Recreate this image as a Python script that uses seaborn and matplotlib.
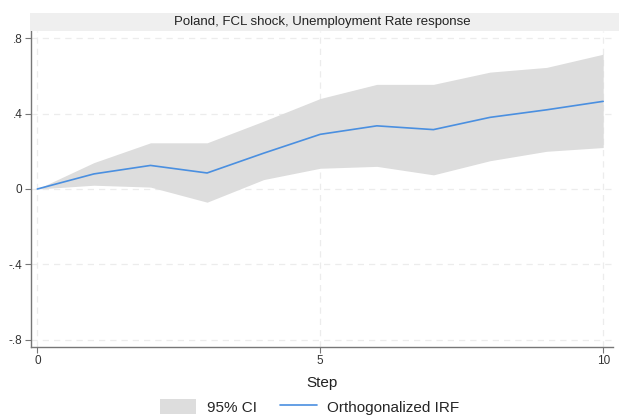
import numpy as np
import pandas as pd
import matplotlib
matplotlib.use("Agg")
import matplotlib.pyplot as plt
import seaborn as sns
from matplotlib.patches import Rectangle

# IRF values
steps = [0, 1, 2, 3, 4, 5, 6, 7, 8, 9, 10]
irf = [0.0, 0.08, 0.125, 0.085, 0.19, 0.29, 0.335, 0.315, 0.38, 0.42, 0.465]
ci_upper = [0.0, 0.14, 0.245, 0.245, 0.36, 0.48, 0.555, 0.555, 0.62, 0.645, 0.715]
ci_lower = [0.0, 0.02, 0.01, -0.07, 0.05, 0.11, 0.12, 0.075, 0.15, 0.2, 0.22]
y_ticks = [-0.8, -0.4, 0, 0.4, 0.8]
y_labels = ["-.8", "-.4", "0", ".4", ".8"]
x_ticks = [0, 5, 10]

data = pd.DataFrame({"step": steps, "irf": irf, "lo": ci_lower, "hi": ci_upper})

sns.set_theme(style="white")
plt.rcParams["font.family"] = ["Liberation Sans", "DejaVu Sans"]

fig = plt.figure(figsize=(6.19, 4.18), dpi=100)
ax = fig.add_axes([0.0496, 0.1699, 0.9404, 0.7559])

grid_col = "#ececec"
for y in y_ticks:
    ax.axhline(y, color=grid_col, lw=0.9, ls=(0, (5, 4)), zorder=0)
for x in x_ticks:
    ax.axvline(x, color=grid_col, lw=0.9, ls=(0, (5, 4)), zorder=0)

ax.fill_between(data["step"], data["lo"], data["hi"], color="#dddddd",
                lw=0, label="95% CI", zorder=1)
sns.lineplot(data=data, x="step", y="irf", ax=ax, color="#4a8fe0", lw=1.2,
             label="Orthogonalized IRF", zorder=2)

ax.set_xlim(-0.117, 10.17)
ax.set_ylim(-0.838, 0.838)
ax.set_xticks(x_ticks)
ax.set_yticks(y_ticks)
ax.set_yticklabels(y_labels)
ax.tick_params(axis="both", direction="out", length=4, width=0.8, color="#777777",
               labelsize=8.5, labelcolor="#333333", pad=2, left=True, bottom=True)
ax.set_xlabel("Step", fontsize=11, color="#222222", labelpad=6)
ax.set_ylabel("")

for side in ["top", "right"]:
    ax.spines[side].set_visible(False)
for side in ["left", "bottom"]:
    ax.spines[side].set_color("#777777")
    ax.spines[side].set_linewidth(1.0)

# grey title band like Stata's subtitle box
fig.patches.append(Rectangle((0.0485, 0.9258), 0.9515, 0.0431, transform=fig.transFigure,
                             facecolor="#efefef", edgecolor="none"))
fig.text(0.52, 0.947, "Poland, FCL shock, Unemployment Rate response",
         ha="center", va="center", fontsize=9.5, color="#222222")

handles, labels = ax.get_legend_handles_labels()
ax.get_legend().remove()
fig.legend(handles, labels, loc="lower center", bbox_to_anchor=(0.5, -0.025), ncol=2,
           frameon=False, fontsize=11, handlelength=2.4, handleheight=1.1,
           columnspacing=1.5, handletextpad=0.7)

fig.savefig("out.png", dpi=100)
